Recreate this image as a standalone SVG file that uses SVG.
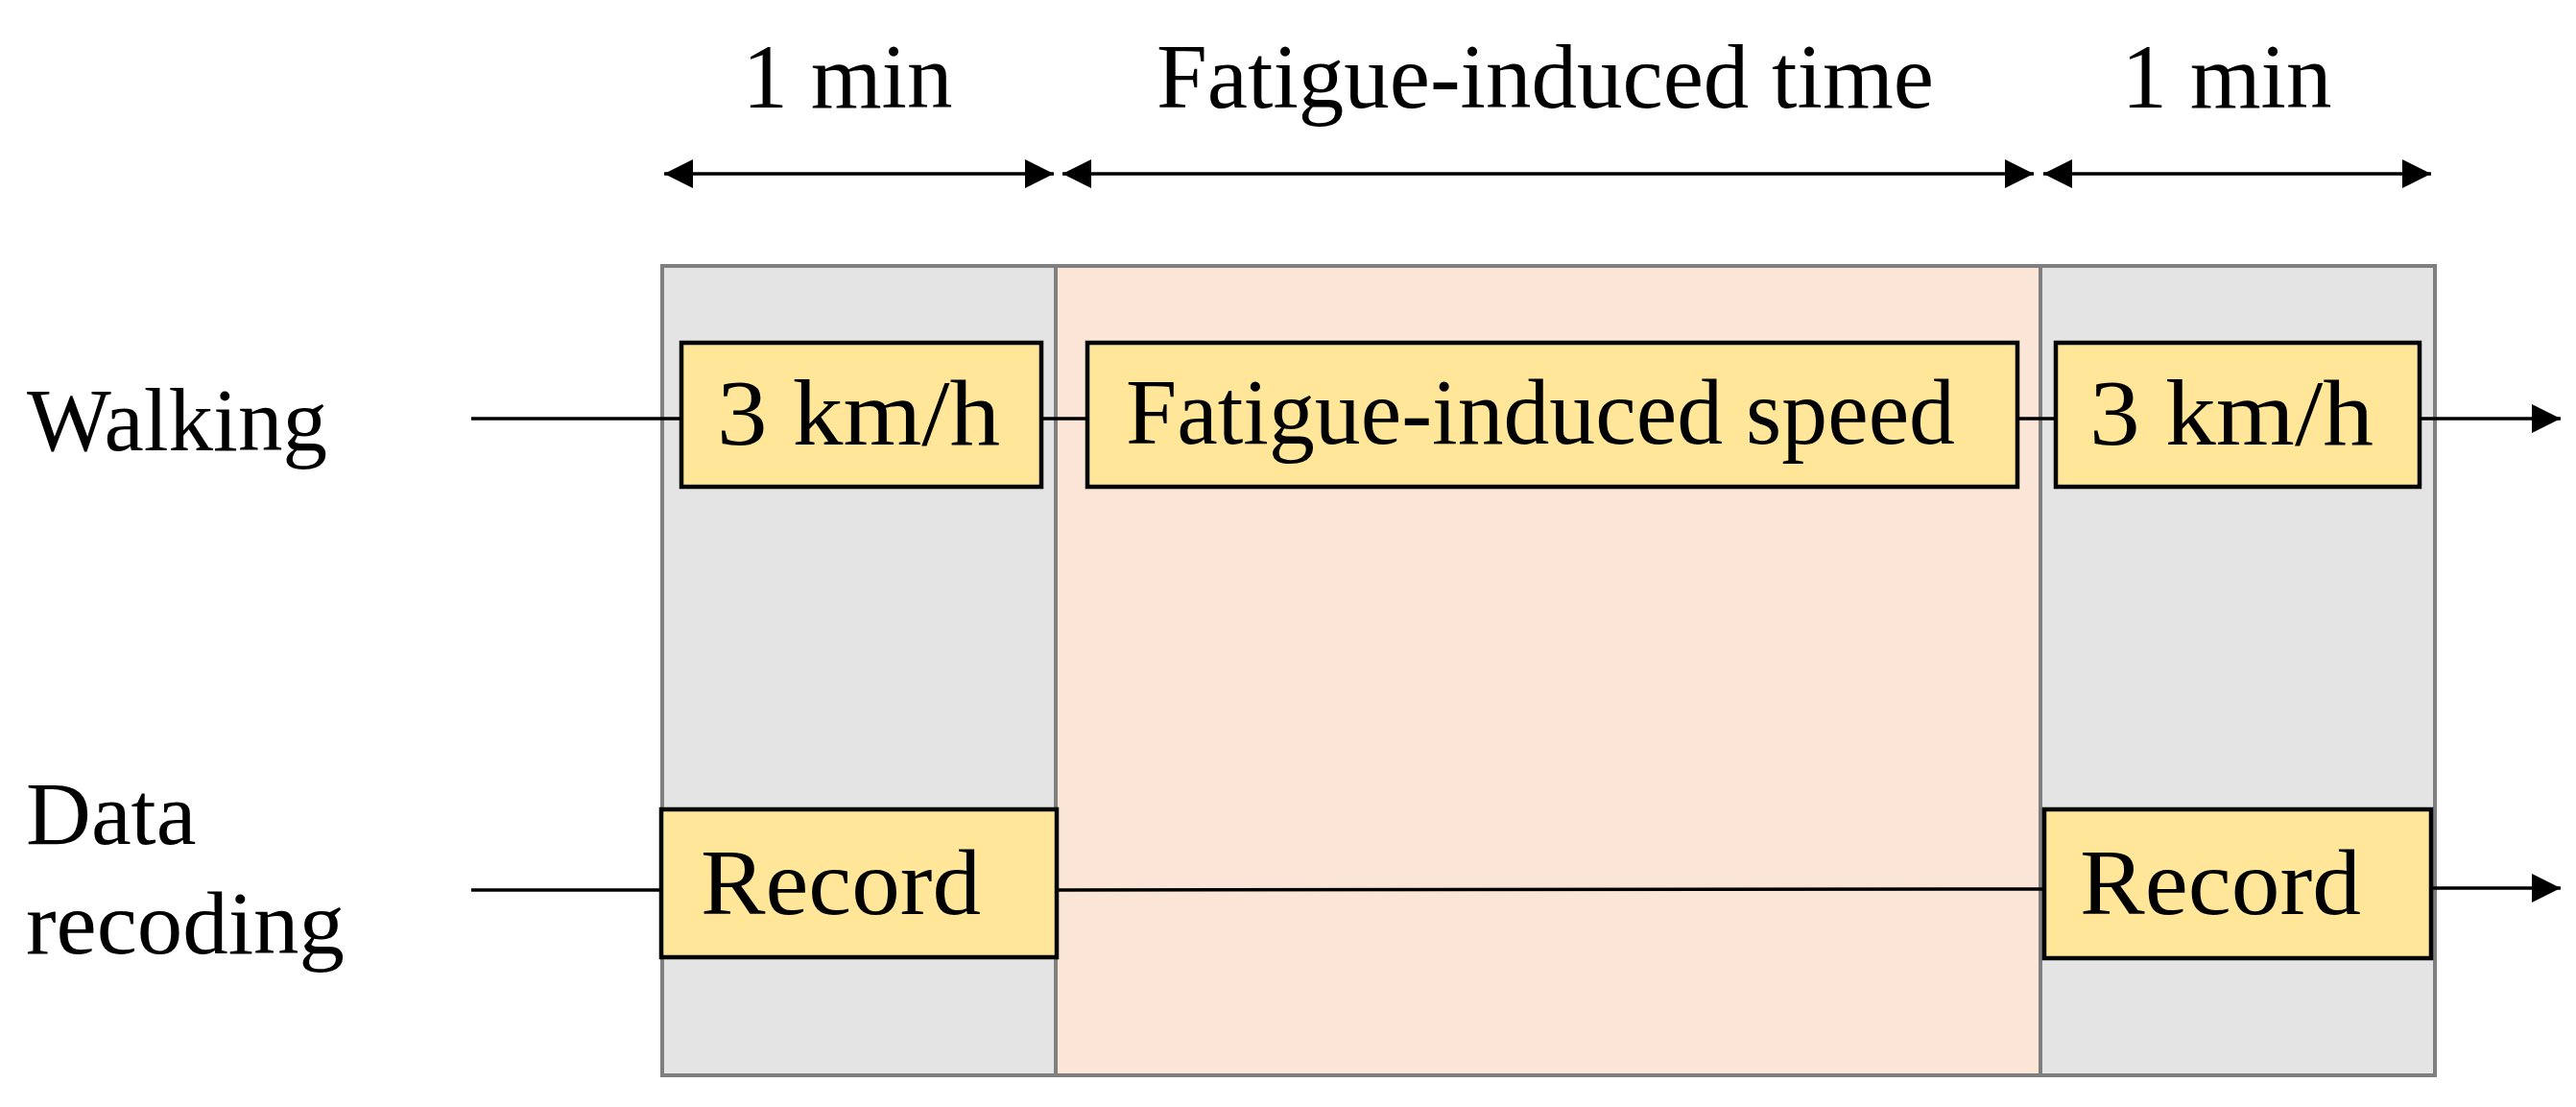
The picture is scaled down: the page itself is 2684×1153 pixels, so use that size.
<svg xmlns="http://www.w3.org/2000/svg" width="2684" height="1153" viewBox="0 0 2684 1153">
<style>
  text { font-family: "Liberation Serif", "Times New Roman", serif; fill: #000; }
  .hdr { font-size: 95px; }
  .lbl { font-size: 94px; }
  .box { font-size: 98px; }
  .phase { stroke: #7f7f7f; stroke-width: 4; }
  .gray { fill: #e4e4e4; }
  .pink { fill: #fbe5d7; }
  .task { fill: #ffe699; stroke: #000; stroke-width: 4.5; }
  .ln { stroke: #000; stroke-width: 3.5; fill: none; }
</style>
<defs>
  <marker id="ah" viewBox="0 0 10 10" refX="10" refY="5" markerWidth="30" markerHeight="30" markerUnits="userSpaceOnUse" orient="auto-start-reverse">
    <path d="M0,0 L10,5 L0,10 Z" fill="#000"/>
  </marker>
</defs>

<g id="phases">
  <rect id="phase1" class="phase gray" x="690" y="277" width="410" height="843"/>
  <rect id="phase2" class="phase pink" x="1100" y="277" width="1026" height="843"/>
  <rect id="phase3" class="phase gray" x="2126" y="277" width="411" height="843"/>
</g>

<g id="connectors">
  <line class="ln" x1="692" y1="181" x2="1098" y2="181" marker-start="url(#ah)" marker-end="url(#ah)"/>
  <line class="ln" x1="1107" y1="181" x2="2119" y2="181" marker-start="url(#ah)" marker-end="url(#ah)"/>
  <line class="ln" x1="2129" y1="181" x2="2533" y2="181" marker-start="url(#ah)" marker-end="url(#ah)"/>
  <line class="ln" x1="491" y1="436" x2="710" y2="436"/>
  <line class="ln" x1="1085" y1="436" x2="1133" y2="436"/>
  <line class="ln" x1="2102" y1="436" x2="2142" y2="436"/>
  <line class="ln" x1="2521" y1="436" x2="2668" y2="436" marker-end="url(#ah)"/>
  <line class="ln" x1="491" y1="927" x2="689" y2="927"/>
  <line class="ln" x1="1101" y1="927" x2="2130" y2="926"/>
  <line class="ln" x1="2533" y1="925" x2="2668" y2="925" marker-end="url(#ah)"/>
</g>

<g id="headers">
  <text class="hdr" x="883" y="112" text-anchor="middle">1 min</text>
  <text class="hdr" x="1610" y="112" text-anchor="middle">Fatigue-induced time</text>
  <text class="hdr" x="2320" y="112" text-anchor="middle">1 min</text>
</g>

<g id="row-labels">
  <text class="lbl" x="28" y="469" textLength="313" lengthAdjust="spacingAndGlyphs">Walking</text>
  <text class="lbl" x="27" y="879">Data</text>
  <text class="lbl" x="27" y="993" textLength="332" lengthAdjust="spacingAndGlyphs">recoding</text>
</g>

<g id="walk1">
  <rect class="task" x="710" y="357" width="375" height="150"/>
  <text class="box" x="747" y="463" textLength="295" lengthAdjust="spacingAndGlyphs">3 km/h</text>
</g>
<g id="walk2">
  <rect class="task" x="1133" y="357" width="969" height="150"/>
  <text class="box" x="1173" y="462" textLength="864" lengthAdjust="spacingAndGlyphs">Fatigue-induced speed</text>
</g>
<g id="walk3">
  <rect class="task" x="2142" y="357" width="379" height="150"/>
  <text class="box" x="2177" y="463" textLength="296" lengthAdjust="spacingAndGlyphs">3 km/h</text>
</g>
<g id="rec1">
  <rect class="task" x="689" y="843" width="412" height="154"/>
  <text class="box" x="730" y="952" textLength="292" lengthAdjust="spacingAndGlyphs">Record</text>
</g>
<g id="rec2">
  <rect class="task" x="2130" y="843" width="403" height="155"/>
  <text class="box" x="2167" y="952" textLength="293" lengthAdjust="spacingAndGlyphs">Record</text>
</g>
</svg>
